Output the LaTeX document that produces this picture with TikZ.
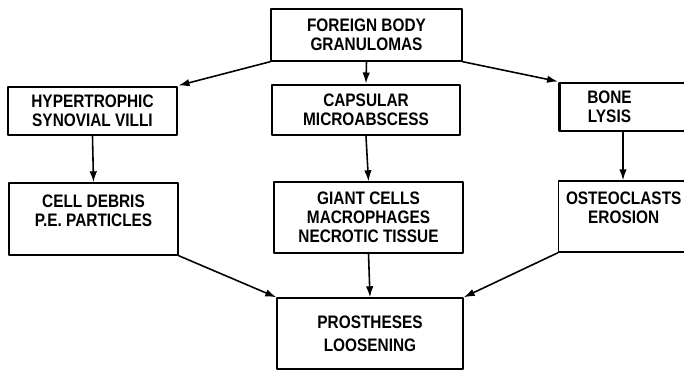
\documentclass[tikz,border=0pt]{standalone}
\usepackage{fontspec}
\setmainfont{Liberation Sans}[FakeStretch=0.85]
\usetikzlibrary{arrows.meta}

\begin{document}
\begin{tikzpicture}[>={Latex[length=2.2mm,width=1.5mm]},line cap=round,line join=round,
  font=\fontsize{10.3}{10.8}\selectfont\bfseries,
  box/.style={draw,line width=.8pt,align=center,inner sep=2pt},
  boldbox/.style={box,line width=1.7pt},
  link/.style={->,line width=.9pt}]
  \useasboundingbox (0,0) rectangle (13.68,7.38);
  \clip (0,0) rectangle (13.68,7.38);

  % Top
  \node[box,minimum width=3.82cm,minimum height=1.04cm] (granuloma) at (7.33,6.68) {FOREIGN BODY\\GRANULOMAS};

  % Middle row
  \node[boldbox,minimum width=3.38cm,minimum height=.96cm] (villi) at (1.85,5.16) {HYPERTROPHIC\\SYNOVIAL VILLI};
  \node[boldbox,minimum width=3.76cm,minimum height=1.0cm] (abscess) at (7.32,5.18) {CAPSULAR\\MICROABSCESS};
  \node[boldbox,anchor=west,minimum width=2.9cm,minimum height=.96cm] (lysis) at (11.16,5.24)
    {BONE\hspace{.9cm}\null\\LYSIS\hspace{.9cm}\null};

  % Lower row
  \node[box,minimum width=3.38cm,minimum height=1.44cm] (debris) at (1.87,3.0) {CELL DEBRIS\\P.E. PARTICLES\\[-1pt]~};
  \node[box,minimum width=3.78cm,minimum height=1.42cm] (giant) at (7.37,3.03) {GIANT CELLS\\MACROPHAGES\\NECROTIC TISSUE};
  \node[box,anchor=west,minimum width=2.6cm,minimum height=1.42cm] (osteo) at (11.16,3.05) {OSTEOCLASTS\\EROSION\\[-1pt]~};

  % Bottom
  \node[box,minimum width=3.72cm,minimum height=1.42cm] (loosening) at (7.4,.71) {PROSTHESES\\[2.2pt]LOOSENING};

  \draw[link] (granuloma.south west) -- (villi.north east);
  \draw[link] (granuloma.south) -- (abscess.north);
  \draw[link] (granuloma.south east) -- (lysis.north west);
  \draw[link] (villi.south) -- (debris.north);
  \draw[link] (abscess.south) -- (giant.north);
  \draw[link] ([xshift=1.3cm]lysis.south west) -- ([xshift=1.3cm]osteo.north west);
  \draw[link] (debris.south east) -- (loosening.north west);
  \draw[link] (giant.south) -- (loosening.north);
  \draw[link] (osteo.south west) -- (loosening.north east);
\end{tikzpicture}
\end{document}
